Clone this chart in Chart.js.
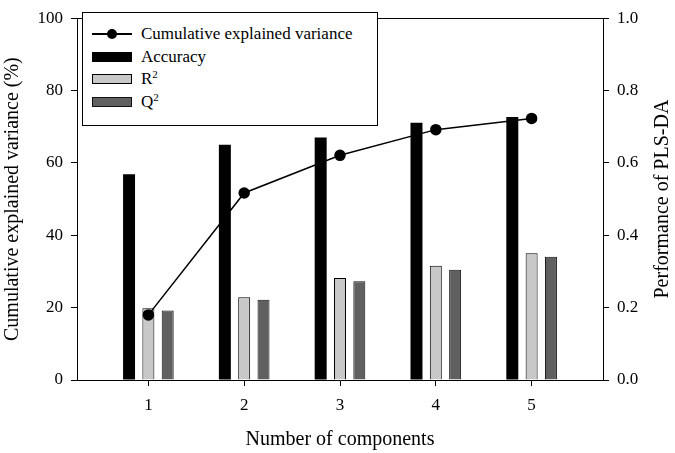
<!DOCTYPE html>
<html>
<head>
<meta charset="utf-8">
<script src="https://cdn.jsdelivr.net/npm/chart.js@4.4.1/dist/chart.umd.min.js"></script>
<style>
  body { margin: 0; background: #fff; }
  #marco { position: relative; width: 675px; height: 453px; }
  #leyenda {
    position: absolute; left: 82px; top: 12px; width: 296px; height: 114px;
    box-sizing: border-box; border: 1px solid #000; background: #fff;
    padding-top: 10px;
    font-family: 'Liberation Serif', 'Times New Roman', serif; font-size: 17px; color: #000;
  }
  .fila { display: flex; align-items: center; height: 22.5px; }
  .simbolo { width: 40px; height: 10px; margin-left: 9px; margin-right: 9px; position: relative; box-sizing: border-box; }
  .simbolo.linea::before { content: ""; position: absolute; left: 0; right: 0; top: 4px; height: 1.5px; background: #000; }
  .simbolo.linea::after { content: ""; position: absolute; left: 15px; top: 0; width: 10px; height: 10px; border-radius: 50%; background: #000; }
</style>
</head>
<body>
<div id="marco">
  <canvas id="grafica" width="675" height="453"></canvas>
  <div id="leyenda"></div>
</div>
<script>
// ════════════════════════════════════════
//  Datos
// ════════════════════════════════════════
const componentes = [1, 2, 3, 4, 5];
const varianzaAcumulada = [18.0, 51.7, 62.1, 69.2, 72.3];   // eje izquierdo (%)
const exactitud = [0.569, 0.650, 0.670, 0.711, 0.727];      // eje derecho
const r2 = [0.198, 0.229, 0.282, 0.316, 0.350];
const q2 = [0.192, 0.222, 0.273, 0.305, 0.341];
const ticksIzq = [0, 20, 40, 60, 80, 100];
const ticksDer = [0, 0.2, 0.4, 0.6, 0.8, 1.0];

const fuente = "'Liberation Serif', 'Times New Roman', serif";
Chart.defaults.font.family = fuente;
Chart.defaults.color = "#000";

const puntos = (vals) => componentes.map((c, i) => ({ x: c, y: vals[i] }));

// titulo del eje derecho, leido de abajo hacia arriba
const tituloDerecho = {
  id: "tituloDerecho",
  afterDraw(chart) {
    const { ctx, chartArea } = chart;
    ctx.save();
    ctx.translate(chart.width - 12, (chartArea.top + chartArea.bottom) / 2);
    ctx.rotate(-Math.PI / 2);
    ctx.font = "20px " + fuente;
    ctx.fillStyle = "#000";
    ctx.textAlign = "center";
    ctx.textBaseline = "middle";
    ctx.fillText("Performance of PLS-DA", 0, 0);
    ctx.restore();
  }
};

const ejeNegro = { display: true, color: "#000", width: 1 };
const marcas = { drawOnChartArea: false, drawTicks: true, tickLength: 6, color: "#000", tickColor: "#000", offset: false };

const grafica = new Chart(document.getElementById("grafica"), {
  type: "bar",
  data: {
    datasets: [
      {
        type: "line",
        label: "Cumulative explained variance",
        data: puntos(varianzaAcumulada),
        yAxisID: "yIzq",
        borderColor: "#000",
        backgroundColor: "#000",
        borderWidth: 1.5,
        pointRadius: 5,
        pointBackgroundColor: "#000",
        order: 0
      },
      {
        label: "Accuracy",
        data: puntos(exactitud),
        yAxisID: "yDer",
        backgroundColor: "#000",
        borderColor: "#000",
        borderWidth: 0,
        order: 1
      },
      {
        label: "R²",
        data: puntos(r2),
        yAxisID: "yDer",
        backgroundColor: "#c8c8c8",
        borderColor: "#000",
        borderWidth: 1,
        order: 1
      },
      {
        label: "Q²",
        data: puntos(q2),
        yAxisID: "yDer",
        backgroundColor: "#606060",
        borderColor: "#111",
        borderWidth: 1,
        order: 1
      }
    ]
  },
  options: {
    responsive: false,
    animation: false,
    devicePixelRatio: 1,
    layout: { padding: 0 },
    datasets: { bar: { categoryPercentage: 0.605, barPercentage: 0.62 } },
    plugins: { legend: { display: false }, tooltip: { enabled: false } },
    scales: {
      x: {
        type: "linear",
        position: "bottom",
        offset: false,
        min: 0.255,
        max: 5.745,
        afterBuildTicks: (eje) => { eje.ticks = componentes.map(v => ({ value: v })); },
        afterFit: (eje) => { eje.height = 73; },
        ticks: { font: { size: 17 }, padding: 9, color: "#000" },
        grid: marcas,
        border: ejeNegro,
        title: { display: true, text: "Number of components", font: { size: 20 }, color: "#000", padding: { top: 0, bottom: 1 } }
      },
      xArriba: {
        type: "linear",
        position: "top",
        display: true,
        offset: false,
        min: 0.255,
        max: 5.745,
        afterFit: (eje) => { eje.height = 9; },
        ticks: { display: false },
        grid: { display: false, drawTicks: false },
        border: ejeNegro
      },
      yIzq: {
        type: "linear",
        position: "left",
        min: 0,
        max: 100,
        afterBuildTicks: (eje) => { eje.ticks = ticksIzq.map(v => ({ value: v })); },
        afterFit: (eje) => { eje.width = 77; },
        ticks: { font: { size: 17 }, padding: 8, color: "#000" },
        grid: marcas,
        border: ejeNegro,
        title: { display: true, text: "Cumulative explained variance (%)", font: { size: 20 }, color: "#000", padding: { top: 1, bottom: 0 } }
      },
      yDer: {
        type: "linear",
        position: "right",
        min: 0,
        max: 1,
        afterBuildTicks: (eje) => { eje.ticks = ticksDer.map(v => ({ value: v })); },
        afterFit: (eje) => { eje.width = 72; },
        ticks: { font: { size: 17 }, padding: 8, color: "#000", callback: (v) => v.toFixed(1) },
        grid: marcas,
        border: ejeNegro
      }
    }
  },
  plugins: [tituloDerecho]
});

// ════════════════════════════════════════
//  Leyenda dentro del área de la gráfica
// ════════════════════════════════════════
const leyenda = document.getElementById("leyenda");
grafica.data.datasets.forEach((ds) => {
  const fila = document.createElement("div");
  fila.className = "fila";
  const simbolo = document.createElement("span");
  simbolo.className = "simbolo" + (ds.type === "line" ? " linea" : "");
  if (ds.type !== "line") {
    simbolo.style.background = ds.backgroundColor;
    if (ds.borderWidth) simbolo.style.border = "1px solid " + ds.borderColor;
  }
  const texto = document.createElement("span");
  texto.innerHTML = ds.label.replace("²", "<sup style='font-size:11px;vertical-align:6px;line-height:0'>2</sup>");
  fila.appendChild(simbolo);
  fila.appendChild(texto);
  leyenda.appendChild(fila);
});
</script>
</body>
</html>
